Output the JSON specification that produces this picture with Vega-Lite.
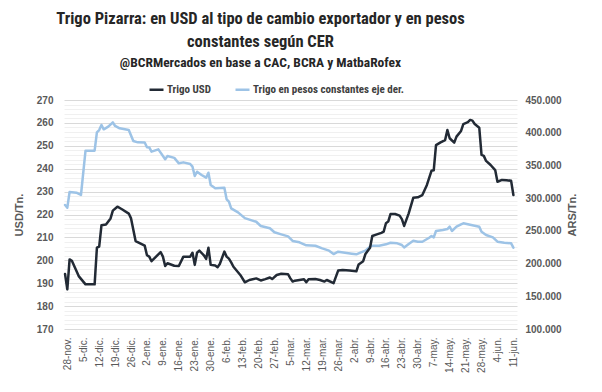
{
  "$schema": "https://vega.github.io/schema/vega-lite/v6.json",
  "width": 453,
  "height": 229,
  "autosize": {"type": "none"},
  "padding": {"left": 64, "top": 100, "right": 85, "bottom": 63},
  "background": "white",
  "title": {
    "text": ["Trigo Pizarra: en USD al tipo de cambio exportador y en pesos", "constantes según CER"],
    "subtitle": "@BCRMercados en base a CAC, BCRA y MatbaRofex",
    "anchor": "middle",
    "dx": -30,
    "offset": 12,
    "font": "Roboto Condensed, Roboto, sans-serif",
    "fontSize": 16.5,
    "fontWeight": "bold",
    "color": "#262626",
    "lineHeight": 23,
    "subtitleFont": "Roboto Condensed, Roboto, sans-serif",
    "subtitleFontSize": 13.5,
    "subtitleFontWeight": "bold",
    "subtitleColor": "#262626",
    "subtitlePadding": 5
  },
  "datasets": {
    "usd": [
      {"fecha": "2019-11-27", "v": 194}, {"fecha": "2019-11-28", "v": 187.3}, {"fecha": "2019-11-29", "v": 200.4},
      {"fecha": "2019-11-30", "v": 199.8}, {"fecha": "2019-12-03", "v": 193.1}, {"fecha": "2019-12-06", "v": 189.5},
      {"fecha": "2019-12-10", "v": 189.5}, {"fecha": "2019-12-11", "v": 205.5}, {"fecha": "2019-12-12", "v": 206},
      {"fecha": "2019-12-13", "v": 215.3}, {"fecha": "2019-12-15", "v": 215.6}, {"fecha": "2019-12-17", "v": 218.3},
      {"fecha": "2019-12-18", "v": 221.7}, {"fecha": "2019-12-20", "v": 223.4}, {"fecha": "2019-12-22", "v": 222.3},
      {"fecha": "2019-12-25", "v": 220.4}, {"fecha": "2019-12-26", "v": 218.3}, {"fecha": "2019-12-28", "v": 208.4},
      {"fecha": "2019-12-30", "v": 207.4}, {"fecha": "2020-01-01", "v": 206.4}, {"fecha": "2020-01-02", "v": 202.2},
      {"fecha": "2020-01-03", "v": 201.6}, {"fecha": "2020-01-04", "v": 199.6}, {"fecha": "2020-01-06", "v": 201.6},
      {"fecha": "2020-01-08", "v": 203.6}, {"fecha": "2020-01-09", "v": 201.6}, {"fecha": "2020-01-10", "v": 197.5},
      {"fecha": "2020-01-11", "v": 198.7}, {"fecha": "2020-01-14", "v": 197.6}, {"fecha": "2020-01-16", "v": 197.5},
      {"fecha": "2020-01-18", "v": 201.6}, {"fecha": "2020-01-21", "v": 201.6}, {"fecha": "2020-01-22", "v": 203.3},
      {"fecha": "2020-01-23", "v": 198}, {"fecha": "2020-01-24", "v": 203.3}, {"fecha": "2020-01-25", "v": 204.2},
      {"fecha": "2020-01-27", "v": 202.2}, {"fecha": "2020-01-28", "v": 200.6}, {"fecha": "2020-01-29", "v": 205.5},
      {"fecha": "2020-01-30", "v": 198}, {"fecha": "2020-02-01", "v": 197.7}, {"fecha": "2020-02-02", "v": 197},
      {"fecha": "2020-02-03", "v": 198.4}, {"fecha": "2020-02-05", "v": 203.8}, {"fecha": "2020-02-06", "v": 201.6},
      {"fecha": "2020-02-07", "v": 200.7}, {"fecha": "2020-02-08", "v": 199.1}, {"fecha": "2020-02-09", "v": 197.2},
      {"fecha": "2020-02-12", "v": 193.6}, {"fecha": "2020-02-14", "v": 190.4}, {"fecha": "2020-02-16", "v": 191.4},
      {"fecha": "2020-02-19", "v": 192.1}, {"fecha": "2020-02-21", "v": 191.2}, {"fecha": "2020-02-23", "v": 191.8},
      {"fecha": "2020-02-25", "v": 192.5}, {"fecha": "2020-02-26", "v": 191.8}, {"fecha": "2020-02-28", "v": 193.6},
      {"fecha": "2020-03-01", "v": 194.1}, {"fecha": "2020-03-04", "v": 193.9}, {"fecha": "2020-03-05", "v": 192.1},
      {"fecha": "2020-03-06", "v": 190.7}, {"fecha": "2020-03-07", "v": 191.1}, {"fecha": "2020-03-11", "v": 191.7},
      {"fecha": "2020-03-12", "v": 190.4}, {"fecha": "2020-03-13", "v": 191.7}, {"fecha": "2020-03-16", "v": 191.8},
      {"fecha": "2020-03-18", "v": 191.4}, {"fecha": "2020-03-20", "v": 190.7}, {"fecha": "2020-03-21", "v": 191.4},
      {"fecha": "2020-03-24", "v": 190}, {"fecha": "2020-03-26", "v": 195.5}, {"fecha": "2020-03-28", "v": 195.8},
      {"fecha": "2020-03-31", "v": 195.5}, {"fecha": "2020-04-03", "v": 195.2}, {"fecha": "2020-04-04", "v": 198.2},
      {"fecha": "2020-04-06", "v": 199.6}, {"fecha": "2020-04-07", "v": 202.8}, {"fecha": "2020-04-09", "v": 205.5},
      {"fecha": "2020-04-10", "v": 210.6}, {"fecha": "2020-04-12", "v": 211.3}, {"fecha": "2020-04-14", "v": 212},
      {"fecha": "2020-04-15", "v": 212.5}, {"fecha": "2020-04-16", "v": 216.2}, {"fecha": "2020-04-17", "v": 216.9},
      {"fecha": "2020-04-18", "v": 220.2}, {"fecha": "2020-04-20", "v": 220.2}, {"fecha": "2020-04-22", "v": 219.5},
      {"fecha": "2020-04-23", "v": 218}, {"fecha": "2020-04-24", "v": 215}, {"fecha": "2020-04-26", "v": 220.5},
      {"fecha": "2020-04-28", "v": 227.3}, {"fecha": "2020-04-30", "v": 227.5}, {"fecha": "2020-05-02", "v": 228.5},
      {"fecha": "2020-05-04", "v": 232.9}, {"fecha": "2020-05-06", "v": 239.1}, {"fecha": "2020-05-07", "v": 239.3},
      {"fecha": "2020-05-08", "v": 250.3}, {"fecha": "2020-05-10", "v": 251.5}, {"fecha": "2020-05-12", "v": 252.5},
      {"fecha": "2020-05-13", "v": 256.9}, {"fecha": "2020-05-14", "v": 253.3}, {"fecha": "2020-05-16", "v": 251.4},
      {"fecha": "2020-05-17", "v": 254}, {"fecha": "2020-05-19", "v": 256.5}, {"fecha": "2020-05-20", "v": 259.5},
      {"fecha": "2020-05-22", "v": 260.3}, {"fecha": "2020-05-23", "v": 261.3}, {"fecha": "2020-05-24", "v": 261},
      {"fecha": "2020-05-25", "v": 259.5}, {"fecha": "2020-05-27", "v": 257.9}, {"fecha": "2020-05-28", "v": 246},
      {"fecha": "2020-05-29", "v": 245.6}, {"fecha": "2020-05-30", "v": 243.4}, {"fecha": "2020-06-01", "v": 241.6},
      {"fecha": "2020-06-03", "v": 239.4}, {"fecha": "2020-06-04", "v": 234.3}, {"fecha": "2020-06-06", "v": 235.1},
      {"fecha": "2020-06-08", "v": 235}, {"fecha": "2020-06-10", "v": 234.7}, {"fecha": "2020-06-11", "v": 228.5}
    ],
    "ars": [
      {"fecha": "2019-11-27", "v": 289500}, {"fecha": "2019-11-28", "v": 285400}, {"fecha": "2019-11-29", "v": 309400},
      {"fecha": "2019-12-02", "v": 308400}, {"fecha": "2019-12-04", "v": 304800}, {"fecha": "2019-12-06", "v": 372500},
      {"fecha": "2019-12-10", "v": 372500}, {"fecha": "2019-12-11", "v": 400600}, {"fecha": "2019-12-12", "v": 404100},
      {"fecha": "2019-12-13", "v": 411800}, {"fecha": "2019-12-14", "v": 405200}, {"fecha": "2019-12-16", "v": 409200},
      {"fecha": "2019-12-18", "v": 415900}, {"fecha": "2019-12-19", "v": 410300}, {"fecha": "2019-12-21", "v": 406700},
      {"fecha": "2019-12-25", "v": 404100}, {"fecha": "2019-12-27", "v": 387300}, {"fecha": "2019-12-29", "v": 385300},
      {"fecha": "2020-01-01", "v": 385100}, {"fecha": "2020-01-02", "v": 377700}, {"fecha": "2020-01-03", "v": 377500},
      {"fecha": "2020-01-04", "v": 371000}, {"fecha": "2020-01-07", "v": 374600}, {"fecha": "2020-01-10", "v": 359400},
      {"fecha": "2020-01-11", "v": 364400}, {"fecha": "2020-01-14", "v": 361500}, {"fecha": "2020-01-16", "v": 353200},
      {"fecha": "2020-01-18", "v": 354700}, {"fecha": "2020-01-21", "v": 352200}, {"fecha": "2020-01-22", "v": 348100},
      {"fecha": "2020-01-23", "v": 333800}, {"fecha": "2020-01-24", "v": 340400}, {"fecha": "2020-01-26", "v": 335400},
      {"fecha": "2020-01-28", "v": 331300}, {"fecha": "2020-01-29", "v": 338900}, {"fecha": "2020-01-30", "v": 320100},
      {"fecha": "2020-02-01", "v": 315000}, {"fecha": "2020-02-05", "v": 315900}, {"fecha": "2020-02-06", "v": 298200},
      {"fecha": "2020-02-07", "v": 294600}, {"fecha": "2020-02-08", "v": 284400}, {"fecha": "2020-02-11", "v": 278300},
      {"fecha": "2020-02-14", "v": 269500}, {"fecha": "2020-02-19", "v": 263900}, {"fecha": "2020-02-21", "v": 257400},
      {"fecha": "2020-02-25", "v": 253900}, {"fecha": "2020-02-27", "v": 247800}, {"fecha": "2020-03-01", "v": 244700},
      {"fecha": "2020-03-04", "v": 241600}, {"fecha": "2020-03-06", "v": 234500}, {"fecha": "2020-03-09", "v": 232500},
      {"fecha": "2020-03-12", "v": 227900}, {"fecha": "2020-03-16", "v": 227300}, {"fecha": "2020-03-19", "v": 223300},
      {"fecha": "2020-03-22", "v": 219700}, {"fecha": "2020-03-24", "v": 214600}, {"fecha": "2020-03-26", "v": 218100},
      {"fecha": "2020-03-29", "v": 216600}, {"fecha": "2020-04-01", "v": 215100}, {"fecha": "2020-04-03", "v": 214100},
      {"fecha": "2020-04-05", "v": 217200}, {"fecha": "2020-04-07", "v": 219700}, {"fecha": "2020-04-09", "v": 225800},
      {"fecha": "2020-04-10", "v": 227300}, {"fecha": "2020-04-13", "v": 227300}, {"fecha": "2020-04-16", "v": 229400},
      {"fecha": "2020-04-18", "v": 231900}, {"fecha": "2020-04-21", "v": 230900}, {"fecha": "2020-04-23", "v": 228400},
      {"fecha": "2020-04-24", "v": 224600}, {"fecha": "2020-04-26", "v": 229900}, {"fecha": "2020-04-28", "v": 234900},
      {"fecha": "2020-04-30", "v": 233400}, {"fecha": "2020-05-02", "v": 233400}, {"fecha": "2020-05-05", "v": 239500},
      {"fecha": "2020-05-06", "v": 242100}, {"fecha": "2020-05-07", "v": 240100}, {"fecha": "2020-05-08", "v": 249800},
      {"fecha": "2020-05-11", "v": 251300}, {"fecha": "2020-05-13", "v": 252800}, {"fecha": "2020-05-14", "v": 256400},
      {"fecha": "2020-05-15", "v": 249800}, {"fecha": "2020-05-17", "v": 256400}, {"fecha": "2020-05-19", "v": 260000},
      {"fecha": "2020-05-20", "v": 261500}, {"fecha": "2020-05-22", "v": 260000}, {"fecha": "2020-05-25", "v": 257900},
      {"fecha": "2020-05-27", "v": 256400}, {"fecha": "2020-05-28", "v": 248700}, {"fecha": "2020-05-30", "v": 243700},
      {"fecha": "2020-06-02", "v": 240100}, {"fecha": "2020-06-04", "v": 233400}, {"fecha": "2020-06-07", "v": 231900},
      {"fecha": "2020-06-10", "v": 230900}, {"fecha": "2020-06-11", "v": 224300}
    ]
  },
  "encoding": {
    "x": {
      "field": "fecha",
      "type": "temporal",
      "title": null,
      "scale": {
        "type": "utc",
        "nice": false,
        "domain": [
          {"year": 2019, "month": 11, "date": 26, "hours": 13, "utc": true},
          {"year": 2020, "month": 6, "date": 12, "hours": 14, "utc": true}
        ]
      },
      "axis": {
        "values": [
          {"year": 2019, "month": 11, "date": 28, "utc": true},
          {"year": 2019, "month": 12, "date": 5, "utc": true},
          {"year": 2019, "month": 12, "date": 12, "utc": true},
          {"year": 2019, "month": 12, "date": 19, "utc": true},
          {"year": 2019, "month": 12, "date": 26, "utc": true},
          {"year": 2020, "month": 1, "date": 2, "utc": true},
          {"year": 2020, "month": 1, "date": 9, "utc": true},
          {"year": 2020, "month": 1, "date": 16, "utc": true},
          {"year": 2020, "month": 1, "date": 23, "utc": true},
          {"year": 2020, "month": 1, "date": 30, "utc": true},
          {"year": 2020, "month": 2, "date": 6, "utc": true},
          {"year": 2020, "month": 2, "date": 13, "utc": true},
          {"year": 2020, "month": 2, "date": 20, "utc": true},
          {"year": 2020, "month": 2, "date": 27, "utc": true},
          {"year": 2020, "month": 3, "date": 5, "utc": true},
          {"year": 2020, "month": 3, "date": 12, "utc": true},
          {"year": 2020, "month": 3, "date": 19, "utc": true},
          {"year": 2020, "month": 3, "date": 26, "utc": true},
          {"year": 2020, "month": 4, "date": 2, "utc": true},
          {"year": 2020, "month": 4, "date": 9, "utc": true},
          {"year": 2020, "month": 4, "date": 16, "utc": true},
          {"year": 2020, "month": 4, "date": 23, "utc": true},
          {"year": 2020, "month": 4, "date": 30, "utc": true},
          {"year": 2020, "month": 5, "date": 7, "utc": true},
          {"year": 2020, "month": 5, "date": 14, "utc": true},
          {"year": 2020, "month": 5, "date": 21, "utc": true},
          {"year": 2020, "month": 5, "date": 28, "utc": true},
          {"year": 2020, "month": 6, "date": 4, "utc": true},
          {"year": 2020, "month": 6, "date": 11, "utc": true}
        ],
        "format": "%-d-%b",
        "labelAngle": -90,
        "labelPadding": 8,
        "ticks": false,
        "grid": false,
        "domain": false,
        "labelOverlap": false,
        "labelFontWeight": "normal"
      }
    }
  },
  "layer": [
    {
      "data": {"name": "ars"},
      "mark": {"type": "line", "strokeWidth": 2.5, "strokeJoin": "round", "strokeCap": "round"},
      "encoding": {
        "y": {
          "field": "v",
          "type": "quantitative",
          "title": "ARS/Tn.",
          "scale": {"domain": [100000, 450000], "nice": false, "zero": false},
          "axis": {
            "orient": "right",
            "values": [100000, 150000, 200000, 250000, 300000, 350000, 400000, 450000],
            "format": ",d",
            "grid": false,
            "ticks": false,
            "domain": false,
            "labelPadding": 8,
            "titleAngle": 270,
            "titlePadding": 16
          }
        },
        "color": {
          "datum": "Trigo en pesos constantes eje der.",
          "type": "nominal",
          "scale": {"domain": ["Trigo USD", "Trigo en pesos constantes eje der."], "range": ["#222A35", "#9DC3E6"]},
          "legend": {
            "orient": "none",
            "legendX": 84,
            "legendY": -19,
            "direction": "horizontal",
            "title": null,
            "symbolType": "stroke",
            "symbolSize": 196,
            "symbolStrokeWidth": 2.5,
            "labelFont": "Roboto Condensed, Roboto, sans-serif",
            "labelFontSize": 11,
            "labelFontWeight": "bold",
            "labelColor": "#404040",
            "labelOffset": 2,
            "labelLimit": 400,
            "columnPadding": 18
          }
        }
      }
    },
    {
      "data": {"name": "usd"},
      "mark": {"type": "line", "strokeWidth": 2.5, "strokeJoin": "round", "strokeCap": "round"},
      "encoding": {
        "y": {
          "field": "v",
          "type": "quantitative",
          "title": "USD/Tn.",
          "scale": {"domain": [170, 270], "nice": false, "zero": false},
          "axis": {
            "orient": "left",
            "values": [170, 172, 174, 176, 178, 180, 182, 184, 186, 188, 190, 192, 194, 196, 198, 200, 202, 204, 206, 208, 210, 212, 214, 216, 218, 220, 222, 224, 226, 228, 230, 232, 234, 236, 238, 240, 242, 244, 246, 248, 250, 252, 254, 256, 258, 260, 262, 264, 266, 268, 270],
            "labelExpr": "datum.value % 10 === 0 ? datum.label : ''",
            "format": "d",
            "grid": true,
            "gridColor": {"condition": {"test": "datum.value % 10 === 0", "value": "#D9D9D9"}, "value": "#F0F0F0"},
            "gridWidth": 1,
            "ticks": false,
            "domain": false,
            "labelPadding": 11,
            "titlePadding": 12
          }
        },
        "color": {"datum": "Trigo USD", "type": "nominal"}
      }
    }
  ],
  "resolve": {"scale": {"y": "independent"}, "axis": {"y": "independent"}},
  "config": {
    "locale": {
      "number": {"decimal": ",", "thousands": ".", "grouping": [3], "currency": ["$", ""]},
      "time": {
        "dateTime": "%A, %e de %B de %Y, %X",
        "date": "%d/%m/%Y",
        "time": "%H:%M:%S",
        "periods": ["AM", "PM"],
        "days": ["domingo", "lunes", "martes", "miércoles", "jueves", "viernes", "sábado"],
        "shortDays": ["dom", "lun", "mar", "mié", "jue", "vie", "sáb"],
        "months": ["enero", "febrero", "marzo", "abril", "mayo", "junio", "julio", "agosto", "septiembre", "octubre", "noviembre", "diciembre"],
        "shortMonths": ["ene.", "feb.", "mar.", "abr.", "may.", "jun.", "jul.", "ago.", "sep.", "oct.", "nov.", "dic."]
      }
    },
    "view": {"stroke": null},
    "axis": {
      "labelFont": "Liberation Sans, Arial, sans-serif",
      "labelFontSize": 10,
      "labelFontWeight": "bold",
      "labelColor": "#595959",
      "titleFont": "Liberation Sans, Arial, sans-serif",
      "titleFontSize": 11,
      "titleFontWeight": "bold",
      "titleColor": "#595959"
    }
  }
}
